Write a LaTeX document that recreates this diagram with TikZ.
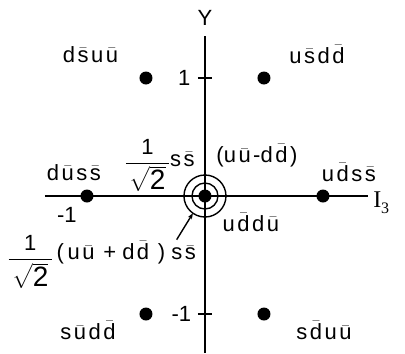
\documentclass[tikz,border=0pt]{standalone}
\usepackage{amsmath}
\usepackage{fontspec}
\setmainfont{Liberation Sans}
\newfontfamily\serifI{Liberation Serif}
\usetikzlibrary{arrows.meta}

\tikzset{
  quark/.style={font=\fontsize{22}{25}\selectfont, inner sep=0pt},
  meson/.style={circle, fill=black, inner sep=0pt, minimum size=13pt},
  axis/.style={line width=1.6pt},
}
% barred quark, set a little apart from its neighbours
\newcommand{\bq}[1]{\kern2.5pt\ensuremath{\bar{\text{#1}}}\kern2.5pt}
\newcommand{\rtwo}{\ensuremath{\dfrac{\text{1}}{\,\sqrt{\text{\fontsize{28}{30}\selectfont 2}}\,}}}

\begin{document}
\begin{tikzpicture}[x=118pt,y=118pt,line width=1.4pt]
  \useasboundingbox (-1.737,-1.331) rectangle (1.695,1.661);
  % axes
  \coordinate (ytop) at (0,1.36);
  \coordinate (ybot) at (0,-1.331);
  \coordinate (xleft) at (-1.356,0);
  \coordinate (xright) at (1.381,0);
  \draw[axis] (ybot) -- (ytop);
  \draw[axis] (xleft) -- (xright);
  \draw[axis] (-0.06,1) -- (0.06,1);
  \draw[axis] (-0.06,-1) -- (0.06,-1);
  \node[quark] (ylab) at (0,1.51) {Y};
  \node[quark, anchor=west] (ilab) at (1.42,-0.06) {\serifI\fontsize{24}{26}\selectfont I\raisebox{-6pt}{\fontsize{16}{18}\selectfont 3}};
  \node[quark] (yone) at (-0.175,1) {1};
  \node[quark] (ymone) at (-0.2,-1) {-1};
  \node[quark] (xmone) at (-1.17,-0.16) {-1};
  % the nine mesons
  \node[meson] (ka) at (-0.5,1) {};
  \node[meson] (kb) at (0.5,1) {};
  \node[meson] (pa) at (-1,0) {};
  \node[meson] (pb) at (1,0) {};
  \node[meson] (kc) at (-0.5,-1) {};
  \node[meson] (kd) at (0.5,-1) {};
  \node[meson] (c0) at (0,0) {};
  \draw (c0.center) circle (13pt);
  \draw (c0.center) circle (21pt);
  % labels
  \node[quark] at (-0.96,1.2) {d\bq{s}u\bq{u}};
  \node[quark] at (0.96,1.2) {u\bq{s}d\bq{d}};
  \node[quark] at (-1.1,0.2) {d\bq{u}s\bq{s}};
  \node[quark] at (1.23,0.2) {u\bq{d}s\bq{s}};
  \node[quark, anchor=east] (singlet) at (-0.06,0.26) {\rtwo\raisebox{2pt}{s\bq{s}}};
  \node[quark] at (0.44,0.34) {(u\bq{u}-d\bq{d})};
  \node[quark] at (0.4,-0.22) {u\bq{d}d\bq{u}};
  \node[quark, anchor=west] (eta) at (-1.68,-0.56) {\rtwo\,\raisebox{5pt}{(\,u\bq{u}\;+\;d\bq{d}\;)\;s\bq{s}}};
  \coordinate (tail) at (-0.24,-0.37);
  \draw[-{Stealth[length=6pt]}] (tail) -- ([shift={(235:21pt)}]c0.center);
  \node[quark] at (-0.98,-1.14) {s\bq{u}d\bq{d}};
  \node[quark] at (1.02,-1.14) {s\bq{d}u\bq{u}};
\end{tikzpicture}
\end{document}
